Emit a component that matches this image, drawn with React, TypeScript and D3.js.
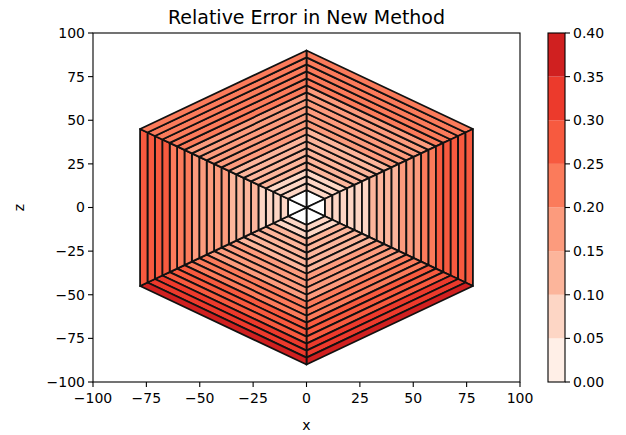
import React from 'react';
import * as d3 from 'd3';

// hexagonal mesh: ring boundaries (circumradius, data units) and sector start angles (deg)
const ringRadii = [0, 10, 14, 18, 22, 26, 30, 34, 38, 42, 46, 50, 54, 58, 62, 66, 70, 74, 78, 82, 86, 90];
const sectorStart = [90, 30, -30, -90, -150, 150];

// relative error per ring (inner hexagon first), one array per sector
const topRight = [null, 0.06, 0.07, 0.09, 0.105, 0.11, 0.12, 0.13, 0.135, 0.145, 0.155, 0.16, 0.17, 0.18, 0.185, 0.195, 0.205, 0.21, 0.22, 0.23, 0.24];
const right = [null, 0.055, 0.06, 0.065, 0.07, 0.08, 0.09, 0.1, 0.11, 0.125, 0.14, 0.155, 0.165, 0.185, 0.205, 0.22, 0.25, 0.26, 0.265, 0.275, 0.285];
const bottomRight = [null, 0.07, 0.09, 0.105, 0.115, 0.125, 0.135, 0.145, 0.155, 0.165, 0.18, 0.195, 0.205, 0.22, 0.24, 0.255, 0.27, 0.29, 0.31, 0.33, 0.36];
const bottomLeft = [null, 0.07, 0.09, 0.105, 0.115, 0.125, 0.135, 0.145, 0.155, 0.165, 0.18, 0.195, 0.205, 0.22, 0.24, 0.255, 0.27, 0.29, 0.31, 0.33, 0.36];
const left = [null, 0.06, 0.07, 0.08, 0.09, 0.105, 0.115, 0.13, 0.14, 0.155, 0.165, 0.175, 0.185, 0.195, 0.205, 0.22, 0.235, 0.255, 0.265, 0.275, 0.29];
const topLeft = [null, 0.06, 0.08, 0.09, 0.11, 0.115, 0.125, 0.13, 0.14, 0.15, 0.16, 0.165, 0.175, 0.18, 0.19, 0.2, 0.21, 0.215, 0.225, 0.235, 0.245];
const sectorValues = [topRight, right, bottomRight, bottomLeft, left, topLeft];

const levels = [0, 0.05, 0.1, 0.15, 0.2, 0.25, 0.3, 0.35, 0.4];
const levelColors = ['#ffefe7', '#fdd6c5', '#fcb59b', '#fc9b7d', '#fb7b5b', '#f75a3f', '#ec3a2c', '#d02020'];
const axisTicks = [-100, -75, -50, -25, 0, 25, 50, 75, 100];

const W = 626, H = 435;
const ax = { l: 93, r: 520, t: 33, b: 382 };
const cb = { l: 548, r: 565 };
const font = 'DejaVu Sans, sans-serif';

export default function App() {
  const x = d3.scaleLinear().domain([-100, 100]).range([ax.l, ax.r]);
  const y = d3.scaleLinear().domain([-100, 100]).range([ax.b, ax.t]);
  const cy = d3.scaleLinear().domain([0, 0.4]).range([ax.b, ax.t]);
  const color = d3.scaleThreshold<number, string>().domain(levels.slice(1, -1)).range(levelColors);
  const line = d3.line<[number, number]>();

  const pt = (r: number, deg: number): [number, number] => {
    const a = (deg * Math.PI) / 180;
    return [x(r * Math.cos(a)), y(r * Math.sin(a))];
  };

  const cells: { d: string; fill: string }[] = [];
  sectorValues.forEach((vals, s) => {
    const a0 = sectorStart[s];
    const a1 = a0 - 60;
    vals.forEach((v, k) => {
      const r0 = ringRadii[k];
      const r1 = ringRadii[k + 1];
      const pts = [pt(r0, a0), pt(r1, a0), pt(r1, a1), pt(r0, a1)];
      cells.push({ d: line(pts) + 'Z', fill: v == null ? '#ffffff' : color(v) });
    });
  });

  return (
    <svg width={W} height={H} style={{ position: 'absolute', left: 0, top: 0, background: '#fff' }} fontFamily={font}>
      <text x={(ax.l + ax.r) / 2} y={24} textAnchor="middle" fontSize={19}>Relative Error in New Method</text>

      <g>
        {cells.map((c, i) => (
          <path key={i} d={c.d} fill={c.fill} stroke="#111" strokeWidth={1.8} strokeLinejoin="round" />
        ))}
      </g>

      <rect x={ax.l} y={ax.t} width={ax.r - ax.l} height={ax.b - ax.t} fill="none" stroke="#000" strokeWidth={1.1} />

      {axisTicks.map(t => (
        <g key={'x' + t} transform={`translate(${x(t)},${ax.b})`}>
          <line y2={5} stroke="#000" strokeWidth={1.1} />
          <text y={21} textAnchor="middle" fontSize={14}>{t < 0 ? '\u2212' + Math.abs(t) : t}</text>
        </g>
      ))}
      {axisTicks.map(t => (
        <g key={'y' + t} transform={`translate(${ax.l},${y(t)})`}>
          <line x2={-5} stroke="#000" strokeWidth={1.1} />
          <text x={-8} dy="0.35em" textAnchor="end" fontSize={14}>{t < 0 ? '\u2212' + Math.abs(t) : t}</text>
        </g>
      ))}
      <text x={(ax.l + ax.r) / 2} y={430} textAnchor="middle" fontSize={14}>x</text>
      <text transform={`translate(24,${(ax.t + ax.b) / 2}) rotate(-90)`} textAnchor="middle" fontSize={14}>z</text>

      {levelColors.map((c, i) => (
        <rect key={c} x={cb.l} y={cy(levels[i + 1])} width={cb.r - cb.l} height={cy(levels[i]) - cy(levels[i + 1])} fill={c} />
      ))}
      <rect x={cb.l} y={ax.t} width={cb.r - cb.l} height={ax.b - ax.t} fill="none" stroke="#000" strokeWidth={1.1} />
      {levels.map(t => (
        <g key={'c' + t} transform={`translate(${cb.r},${cy(t)})`}>
          <line x2={5} stroke="#000" strokeWidth={1.1} />
          <text x={8} dy="0.35em" fontSize={14}>{t.toFixed(2)}</text>
        </g>
      ))}
    </svg>
  );
}
